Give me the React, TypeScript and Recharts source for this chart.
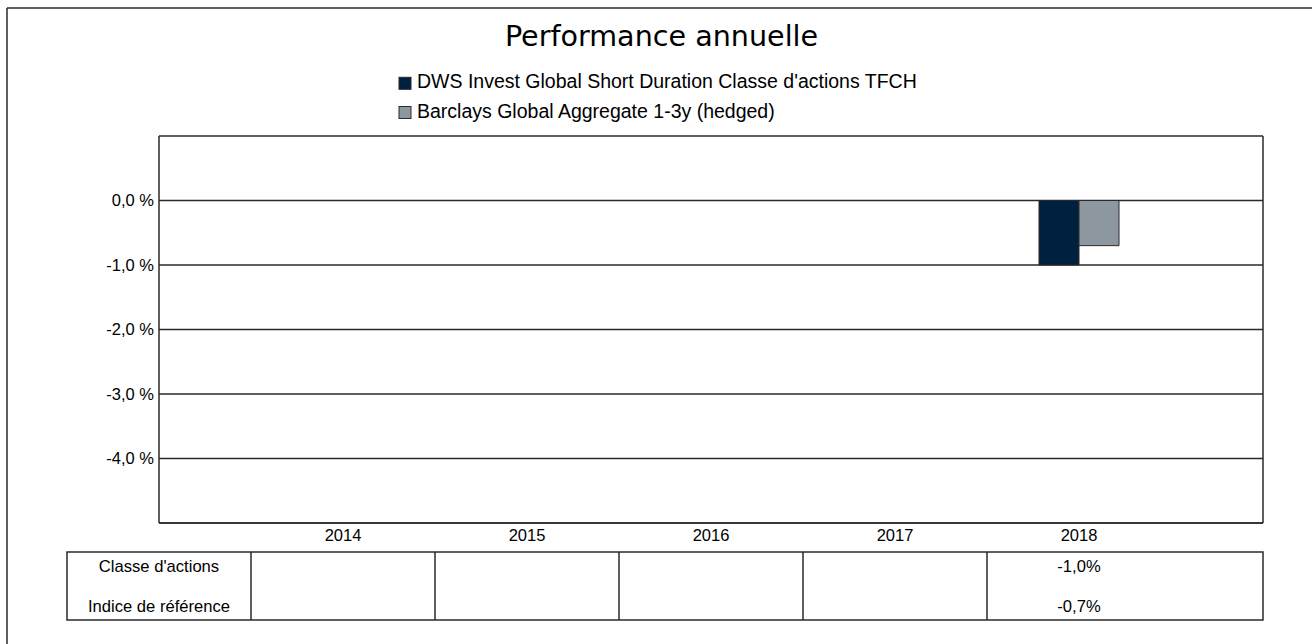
import { BarChart, Bar, XAxis, YAxis, CartesianGrid } from 'recharts';

const years = ['2014', '2015', '2016', '2017', '2018'];
const fundReturns: (number | null)[] = [null, null, null, null, -1.0];
const benchmarkReturns: (number | null)[] = [null, null, null, null, -0.7];
const yTicks = [0, -1, -2, -3, -4];
const yDomain = [-5, 1];

const fundName = "DWS Invest Global Short Duration Classe d'actions TFCH";
const benchmarkName = 'Barclays Global Aggregate 1-3y (hedged)';
const rowLabels = ["Classe d'actions", 'Indice de référence'];
const title = 'Performance annuelle';

const W = 1312;
const H = 644;
const plotLeft = 159;
const plotTop = 136;
const plotRight = 1263;
const plotBottom = 523;
const catPad = 92;
const band = (plotRight - plotLeft - 2 * catPad) / years.length;

const fundColor = '#00203f';
const benchColor = '#8c979f';
const lineColor = '#2a2a2a';
const textColor = '#000';
const font = '"Liberation Sans", Arial, sans-serif';

const fmtAxis = (v: number) => v.toFixed(1).replace('.', ',') + ' %';
const fmtCell = (v: number | null) => (v == null ? '' : v.toFixed(1).replace('.', ',') + '%');

const data = years.map((year, i) => ({
  year,
  fund: fundReturns[i],
  bench: benchmarkReturns[i],
}));

function Overlay() {
  const tableLeft = plotLeft + catPad - band;
  const tableTop = 552;
  const tableBottom = 620;
  const rowBase = [572.3, 611.5];
  const rowValues = [fundReturns, benchmarkReturns];

  return (
    <svg width={W} height={H} style={{ position: 'absolute', left: 0, top: 0, pointerEvents: 'none' }}>
      {/* outer frame */}
      <line x1={7} y1={8} x2={W} y2={8} stroke={lineColor} strokeWidth={1.5} />
      <line x1={7} y1={8} x2={7} y2={H} stroke={lineColor} strokeWidth={1.5} />
      {/* right edge of the plot frame */}
      <line x1={plotRight} y1={plotTop} x2={plotRight} y2={plotBottom} stroke={lineColor} strokeWidth={1.5} />

      <text x={661.5} y={45.7} textAnchor="middle" fontFamily='"DejaVu Sans", Verdana, sans-serif' fontSize={28.6} fill={textColor}>
        {title}
      </text>

      {/* legend */}
      <rect x={399} y={77.3} width={12} height={12} fill={fundColor} stroke={lineColor} strokeWidth={1} />
      <text x={417} y={88.3} fontFamily={font} fontSize={19.5} fill={textColor}>{fundName}</text>
      <rect x={399} y={106.5} width={12} height={12} fill={benchColor} stroke={lineColor} strokeWidth={1} />
      <text x={417} y={117.7} fontFamily={font} fontSize={19.5} fill={textColor}>{benchmarkName}</text>

      {/* table under the chart */}
      <rect x={tableLeft} y={tableTop} width={plotRight - tableLeft} height={tableBottom - tableTop} fill="none" stroke={lineColor} strokeWidth={1.5} />
      {years.map((y, i) => (
        <line key={y} x1={plotLeft + catPad + i * band} y1={tableTop} x2={plotLeft + catPad + i * band} y2={tableBottom} stroke={lineColor} strokeWidth={1.5} />
      ))}
      {rowLabels.map((label, r) => (
        <text key={label} x={tableLeft + band / 2} y={rowBase[r]} textAnchor="middle" fontFamily={font} fontSize={16.6} fill={textColor}>
          {label}
        </text>
      ))}
      {rowValues.map((vals, r) =>
        vals.map((v, i) => (
          <text key={r + '-' + i} x={plotLeft + catPad + (i + 0.5) * band} y={rowBase[r]} textAnchor="middle" fontFamily={font} fontSize={16.6} fill={textColor}>
            {fmtCell(v)}
          </text>
        ))
      )}
    </svg>
  );
}

export default function App() {
  const yAxisWidth = 80;
  const xAxisHeight = 30;
  return (
    <div style={{ position: 'fixed', left: 0, top: 0, width: W, height: H, background: '#fff' }}>
      <BarChart
        width={W}
        height={H}
        data={data}
        barGap={0}
        margin={{
          top: plotTop,
          right: W - plotRight,
          bottom: H - plotBottom - xAxisHeight,
          left: plotLeft - yAxisWidth,
        }}
      >
        <CartesianGrid vertical={false} stroke={lineColor} strokeWidth={1.3} />
        <XAxis
          dataKey="year"
          height={xAxisHeight}
          padding={{ left: catPad, right: catPad }}
          tickLine={false}
          tickSize={0}
          tickMargin={6}
          axisLine={{ stroke: lineColor, strokeWidth: 1.5 }}
          tick={{ fill: textColor, fontSize: 16.5, fontFamily: font }}
        />
        <XAxis xAxisId="top" dataKey="year" orientation="top" height={0} tick={false} tickLine={false} axisLine={{ stroke: lineColor, strokeWidth: 1.5 }} />
        <YAxis
          width={yAxisWidth}
          domain={yDomain}
          ticks={yTicks}
          interval={0}
          tickFormatter={fmtAxis}
          tickLine={false}
          tickSize={0}
          tickMargin={5}
          axisLine={{ stroke: lineColor, strokeWidth: 1.5 }}
          tick={{ fill: textColor, fontSize: 16.5, fontFamily: font }}
        />
        <Bar dataKey="fund" name={fundName} fill={fundColor} stroke={lineColor} strokeWidth={1} barSize={40} isAnimationActive={false} />
        <Bar dataKey="bench" name={benchmarkName} fill={benchColor} stroke={lineColor} strokeWidth={1} barSize={40} isAnimationActive={false} />
      </BarChart>
      <Overlay />
    </div>
  );
}
